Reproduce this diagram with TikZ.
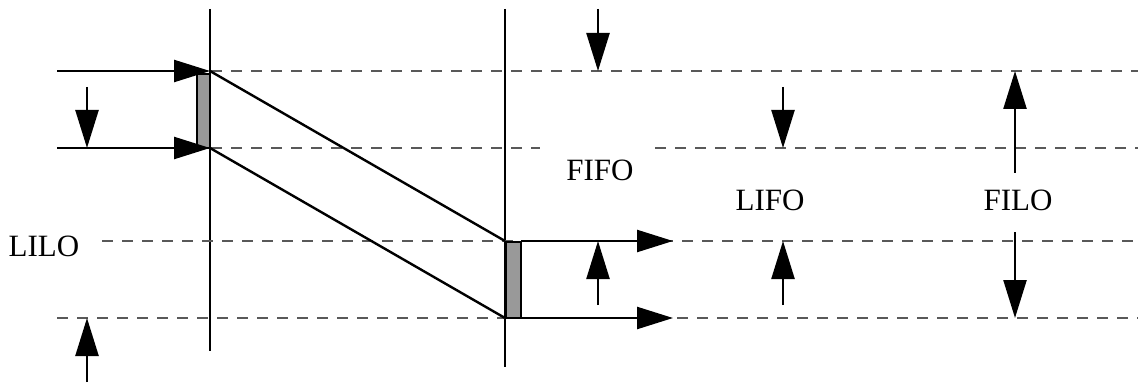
\documentclass[tikz,border=0pt]{standalone}
\usepackage{fontspec}
\setmainfont{Liberation Serif}
\usetikzlibrary{arrows.meta}
\begin{document}
\begin{tikzpicture}[x=1pt, y=-1pt, every node/.style={font=\fontsize{31}{36}\selectfont},
  wall/.style={line width=2.2pt},
  level/.style={gray!70!black, line width=1.4pt, dash pattern=on 11pt off 9pt},
  flow/.style={line width=2.4pt, -{Triangle[length=36pt 0, width=22pt 0]}},
  gauge/.style={line width=2.4pt, -{Triangle[length=38pt 0, width=23pt 0]}},
  buffer/.style={draw, fill=gray!80, line width=1.4pt}]
\useasboundingbox (0,0) rectangle (1138,385);
% walls
\coordinate (w1t) at (210,9);   \coordinate (w1b) at (210,351);
\coordinate (w2t) at (505,9);   \coordinate (w2b) at (505,367);
\draw[wall] (w1t) -- (w1b);
\draw[wall] (w2t) -- (w2b);
% dashed levels
\coordinate (a1) at (211,71);  \coordinate (a2) at (1138,71);
\coordinate (b1) at (211,148); \coordinate (b2) at (540,148);
\coordinate (b3) at (655,148); \coordinate (b4) at (1138,148);
\coordinate (c1) at (102,241); \coordinate (c2) at (1138,241);
\coordinate (e1) at (57,318);  \coordinate (e2) at (1138,318);
\draw[level] (a1) -- (a2);
\draw[level] (b1) -- (b2);
\draw[level] (b3) -- (b4);
\draw[level] (c1) -- (c2);
\draw[level] (e1) -- (e2);
% buffers
\draw[buffer] (197,74) rectangle (210,148);
\draw[buffer, line width=2.4pt] (506,242) rectangle (521,318);
% input and output
\coordinate (in1) at (57,71);   \coordinate (pin1) at (210,71);
\coordinate (in2) at (57,148);  \coordinate (pin2) at (210,148);
\coordinate (pout1) at (505,241); \coordinate (pout2) at (505,318);
\coordinate (o1s) at (521,241); \coordinate (o1) at (673,241);
\coordinate (o2s) at (521,318); \coordinate (o2) at (673,318);
\draw[flow] (in1) -- (pin1);
\draw[flow] (in2) -- (pin2);
\draw[line width=2.4pt] (pin1) -- (pout1);
\draw[line width=2.4pt] (pin2) -- (pout2);
\draw[flow] (o1s) -- (o1);
\draw[flow] (o2s) -- (o2);
% gauges
\coordinate (g1s) at (87,87);    \coordinate (g1) at (87,148);
\coordinate (g2s) at (87,382);   \coordinate (g2) at (87,318);
\coordinate (g3s) at (598,9);    \coordinate (g3) at (598,71);
\coordinate (g4s) at (598,305);  \coordinate (g4) at (598,241);
\coordinate (g5s) at (783,87);   \coordinate (g5) at (783,148);
\coordinate (g6s) at (783,305);  \coordinate (g6) at (783,241);
\coordinate (g7s) at (1015,173); \coordinate (g7) at (1015,71);
\coordinate (g8s) at (1015,232); \coordinate (g8) at (1015,318);
\foreach \g in {1,...,8}
  \draw[gauge] (g\g s) -- (g\g);
% labels
\node (lilo) at (44,246) {LILO};
\node (fifo) at (600,170) {FIFO};
\node (lifo) at (770,200) {LIFO};
\node (filo) at (1018,200) {FILO};
\end{tikzpicture}
\end{document}
